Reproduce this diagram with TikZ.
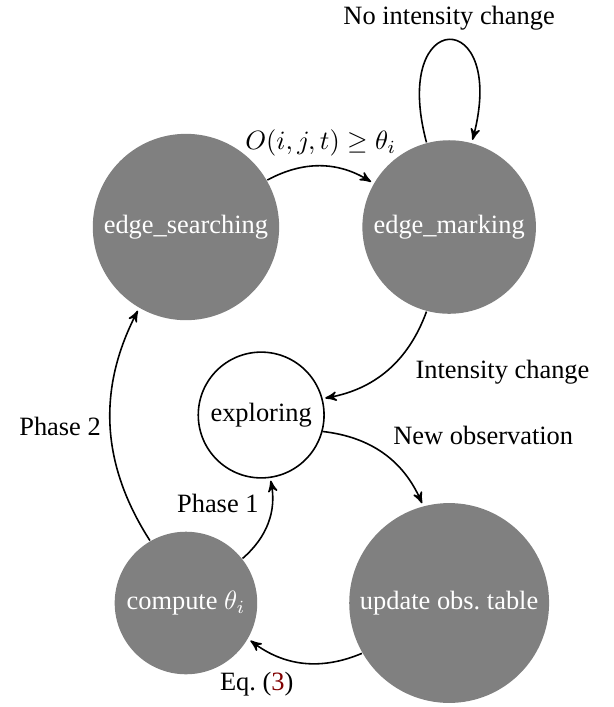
\documentclass[tikz,border=0pt]{standalone}
\usepackage{fontspec}
\setmainfont{Liberation Serif}
\usepackage{tikz}
\usetikzlibrary{automata,positioning,arrows}
\definecolor{eqlink}{rgb}{0.5,0,0}

\begin{document}
\begin{tikzpicture}[->,>=stealth',shorten >=1pt,auto,node distance=3.5cm,
  on grid,semithick]
\tikzstyle{darkstate}=[fill=gray,draw=none,text=white]
\useasboundingbox (-2.473,3.019) rectangle (5.679,-6.383);

%% States
\node[state,darkstate] (searching) {edge\_searching};
\node[state,darkstate] (marking) [right=of searching] {edge\_marking};
\node[state] (exploring) [below right=2.5cm and 1cm of searching] {exploring};
\node[state,darkstate] (compute) [below=5cm of searching] {compute $\theta_i$};
\node[state,darkstate] (update) [right=of compute] {update obs.\ table};

%% Transitions
\path (searching) edge [bend left] node {$O(i,j,t) \geq \theta_i$} (marking)
      (marking) edge [loop above] node {No intensity change} ()
                edge [bend left] node [pos=0.3,below right] {Intensity change} (exploring)
      (exploring) edge [bend left] node {New observation} (update)
      (update) edge [bend left] node [below left] {Eq.~(\textcolor{eqlink}{3})} (compute)
      (compute) edge [bend right] node {Phase 1} (exploring)
                edge [bend left] node {Phase 2} (searching);
\end{tikzpicture}
\end{document}
